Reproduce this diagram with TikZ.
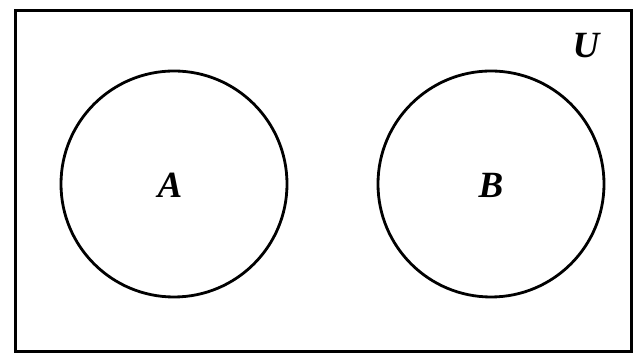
\documentclass[tikz,border=0pt]{standalone}
\usepackage{fontspec}
\setmainfont{Liberation Serif}
\begin{document}
\begin{tikzpicture}[x=1pt,y=1pt,
    settext/.style={font=\fontsize{37}{40}\selectfont\bfseries\itshape}]

    % Frame (canvas 640 x 355)
    \useasboundingbox (0,0) rectangle (640,355);
    \draw[line width=3pt] (15,3) rectangle (631,344);

    % Sets
    \draw[line width=2.8pt] (174,171) circle (113);
    \draw[line width=2.8pt] (491,171) circle (113);

    % Labels
    \node[settext] (setA) at (170,170) {A};
    \node[settext] (setB) at (491,170) {B};
    \node[settext] (univ) at (586,309) {U};

\end{tikzpicture}
\end{document}
